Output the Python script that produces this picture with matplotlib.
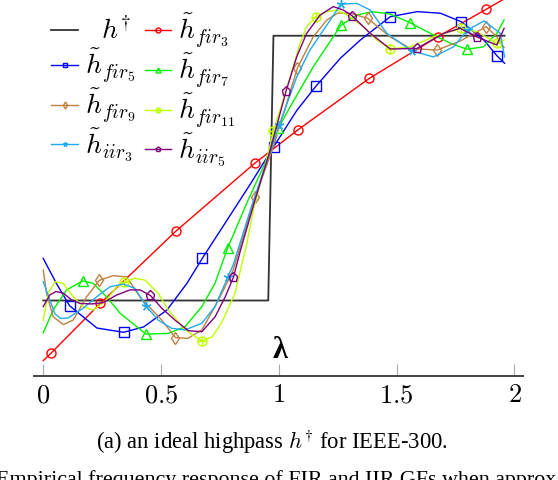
import matplotlib
matplotlib.use('Agg')
import matplotlib.pyplot as plt
from matplotlib.path import Path

plt.rcParams['mathtext.fontset'] = 'cm'
plt.rcParams['font.family'] = ['Liberation Serif', 'DejaVu Serif']

# ---------------- data ----------------
ideal_x = [0.0, 0.955, 0.977, 1.958]
ideal_y = [0.0, 0.0, 1.0, 1.0]

fir3_x = [0.000, 0.033, 0.242, 0.563, 0.897, 1.080, 1.384, 1.674, 1.880, 1.958]
fir3_y = [-0.227, -0.199, -0.011, 0.262, 0.518, 0.644, 0.839, 0.996, 1.100, 1.140]
fir3_mk = [1, 2, 3, 4, 5, 6, 7, 8]

fir5_x = [0.000, 0.055, 0.112, 0.228, 0.341, 0.426, 0.525, 0.610, 0.675, 0.808, 0.879,
          0.978, 1.077, 1.158, 1.261, 1.346, 1.473, 1.587, 1.686, 1.774, 1.870, 1.927, 1.958]
fir5_y = [0.159, 0.066, -0.020, -0.104, -0.120, -0.100, -0.036, 0.065, 0.159, 0.342, 0.440,
          0.581, 0.719, 0.810, 0.915, 0.984, 1.072, 1.091, 1.085, 1.053, 0.984, 0.923, 0.896]
fir5_mk = [2, 4, 8, 11, 13, 16, 19, 21]

fir7_x = [0.000, 0.042, 0.099, 0.167, 0.212, 0.269, 0.326, 0.436, 0.531, 0.602, 0.673, 0.729,
          0.783, 0.870, 0.941, 0.998, 1.040, 1.146, 1.264, 1.331, 1.396, 1.472, 1.557, 1.656,
          1.727, 1.798, 1.868, 1.925, 1.956]
fir7_y = [-0.122, -0.036, 0.040, 0.074, 0.065, 0.014, -0.048, -0.127, -0.124, -0.099, -0.023,
          0.065, 0.199, 0.380, 0.518, 0.650, 0.719, 0.883, 1.040, 1.078, 1.091, 1.082, 1.049,
          1.003, 0.972, 0.949, 0.958, 1.009, 1.059]
fir7_mk = [3, 7, 12, 15, 18, 22, 25]

fir9_x = [0.000, 0.014, 0.042, 0.085, 0.127, 0.184, 0.238, 0.297, 0.354, 0.411, 0.503, 0.561,
          0.614, 0.673, 0.729, 0.772, 0.806, 0.899, 0.977, 1.079, 1.146, 1.203, 1.251, 1.302,
          1.377, 1.472, 1.557, 1.672, 1.770, 1.880, 1.925, 1.956]
fir9_y = [0.115, 0.027, -0.061, -0.091, -0.074, 0.014, 0.076, 0.094, 0.089, 0.013, -0.074,
          -0.140, -0.143, -0.111, -0.023, 0.052, 0.115, 0.390, 0.581, 0.879, 0.996, 1.059,
          1.086, 1.085, 1.066, 0.996, 0.952, 0.946, 0.980, 1.034, 0.996, 0.955]
fir9_mk = [6, 11, 17, 19, 24, 27, 29]

fir11_x = [0.000, 0.021, 0.050, 0.085, 0.127, 0.170, 0.212, 0.269, 0.312, 0.343, 0.389, 0.432,
           0.488, 0.531, 0.602, 0.674, 0.716, 0.759, 0.814, 0.864, 0.892, 0.937, 0.977, 1.005,
           1.048, 1.090, 1.118, 1.157, 1.203, 1.246, 1.302, 1.359, 1.416, 1.472, 1.557, 1.656,
           1.774, 1.840, 1.928, 1.956]
fir11_y = [-0.074, 0.027, 0.071, 0.065, 0.014, -0.023, -0.036, 0.002, 0.052, 0.069, 0.084,
           0.077, 0.027, -0.036, -0.111, -0.153, -0.138, -0.081, 0.028, 0.216, 0.342, 0.493,
           0.640, 0.719, 0.845, 0.971, 1.034, 1.072, 1.091, 1.097, 1.072, 1.034, 0.984, 0.950,
           0.958, 0.996, 1.028, 1.015, 0.971, 0.984]
fir11_mk = [9, 15, 22, 27, 33, 36, 38]

iir3_x = [0.000, 0.028, 0.050, 0.075, 0.105, 0.170, 0.227, 0.283, 0.340, 0.389, 0.436, 0.488,
          0.545, 0.602, 0.673, 0.729, 0.783, 0.806, 0.886, 1.002, 1.076, 1.132, 1.189, 1.264,
          1.331, 1.388, 1.458, 1.564, 1.656, 1.741, 1.801, 1.871, 1.939, 1.958]
iir3_y = [0.071, 0.002, -0.051, -0.068, -0.066, -0.029, 0.014, 0.052, 0.062, 0.046, -0.020,
          -0.074, -0.105, -0.111, -0.086, -0.023, 0.088, 0.134, 0.361, 0.663, 0.845, 0.946,
          1.021, 1.120, 1.122, 1.097, 1.009, 0.943, 0.920, 0.958, 1.022, 1.056, 1.010, 0.920]
iir3_mk = [10, 16, 19, 23, 27, 30]

iir5_x = [0.000, 0.028, 0.054, 0.084, 0.121, 0.156, 0.207, 0.255, 0.312, 0.368, 0.411, 0.455,
          0.503, 0.559, 0.616, 0.673, 0.729, 0.772, 0.807, 0.835, 0.899, 0.963, 1.031, 1.076,
          1.118, 1.175, 1.231, 1.274, 1.310, 1.388, 1.473, 1.586, 1.699, 1.769, 1.839, 1.925,
          1.956]
iir5_y = [-0.023, 0.021, 0.034, 0.028, 0.002, -0.011, -0.013, -0.008, 0.021, 0.040, 0.040,
          0.019, -0.029, -0.074, -0.114, -0.118, -0.062, 0.013, 0.087, 0.183, 0.380, 0.567,
          0.792, 0.921, 1.009, 1.078, 1.110, 1.097, 1.076, 1.009, 0.950, 0.952, 1.009, 1.028,
          0.996, 0.965, 1.028]
iir5_mk = [11, 18, 22, 28, 31, 34]

xticks = [0, 0.5, 1, 1.5, 2]
xtick_labels = ['$0$', '$0.5$', '$1$', '$1.5$', '$2$']

# ---------------- figure ----------------
fig = plt.figure(figsize=(5.58, 4.8), dpi=100)
ax = fig.add_axes([0.0606, 0.2173, 0.877, 0.7827])

circ = Path.unit_circle()
cross = Path([[-1, 0], [1, 0], [0, -1], [0, 1]],
             [Path.MOVETO, Path.LINETO, Path.MOVETO, Path.LINETO])
oplus = Path.make_compound_path(circ, cross)

lw = 1.0
ms = 6.5
mew = 1.0
h0, = ax.plot(ideal_x, ideal_y, color='#333333', lw=1.3, label=r'$\ \ h^{\dagger}$')
series = [
    (fir3_x, fir3_y, fir3_mk, '#FF0000', 'o', r'$\tilde{h}_{fir_3}$'),
    (fir5_x, fir5_y, fir5_mk, '#0000FF', 's', r'$\tilde{h}_{fir_5}$'),
    (fir7_x, fir7_y, fir7_mk, '#00F000', '^', r'$\tilde{h}_{fir_7}$'),
    (fir9_x, fir9_y, fir9_mk, '#BF8040', 'd', r'$\tilde{h}_{fir_9}$'),
    (fir11_x, fir11_y, fir11_mk, '#BFFF00', oplus, r'$\tilde{h}_{fir_{11}}$'),
    (iir3_x, iir3_y, iir3_mk, '#22AAEE', (5, 2, 0), r'$\tilde{h}_{iir_3}$'),
    (iir5_x, iir5_y, iir5_mk, '#800080', 'p', r'$\tilde{h}_{iir_5}$'),
]
hs = []
for x, y, mk, c, m, lab in series:
    h, = ax.plot(x, y, color=c, lw=lw, marker=m, markevery=mk, markersize=ms,
                 markerfacecolor='none', markeredgecolor=c, markeredgewidth=mew,
                 label=lab)
    hs.append(h)

ax.set_xlim(-0.040, 2.037)
ax.set_ylim(-0.284, 1.135)
for s in ['top', 'right', 'left']:
    ax.spines[s].set_visible(False)
ax.spines['bottom'].set_color('#444444')
ax.spines['bottom'].set_linewidth(1.4)
ax.set_yticks([])
ax.set_xticks(xticks)
ax.set_xticklabels(xtick_labels, fontsize=19)
ax.tick_params(axis='x', direction='in', length=8.5, width=0.8, color='#aaaaaa', pad=7)
ax.patch.set_alpha(0)

ax.text(1.005, -0.187, 'λ', fontsize=22, fontweight='bold', ha='center', va='center',
        family=['Liberation Serif', 'DejaVu Serif'])

handles = [h0, hs[1], hs[3], hs[5], hs[0], hs[2], hs[4], hs[6]]
labels = [h.get_label() for h in handles]
ax.legend(handles, labels, ncol=2, loc='upper left', bbox_to_anchor=(0.036, 0.969),
          frameon=False, fontsize=20, handlelength=0.95, handletextpad=0.25,
          columnspacing=0.35, labelspacing=0.05, markerscale=0.55,
          borderpad=0, borderaxespad=0)

fig.text(0.4866, 1 - 442 / 480, r'(a) an ideal highpass $h^{\dagger}$ for IEEE-300.',
         ha='center', va='center', fontsize=16.3)
fig.text(-0.008, 1 - 485 / 480, 'Empirical frequency response of FIR and IIR GFs when approx',
         ha='left', va='baseline', fontsize=15.8)

fig.savefig('out.png', dpi=100)
